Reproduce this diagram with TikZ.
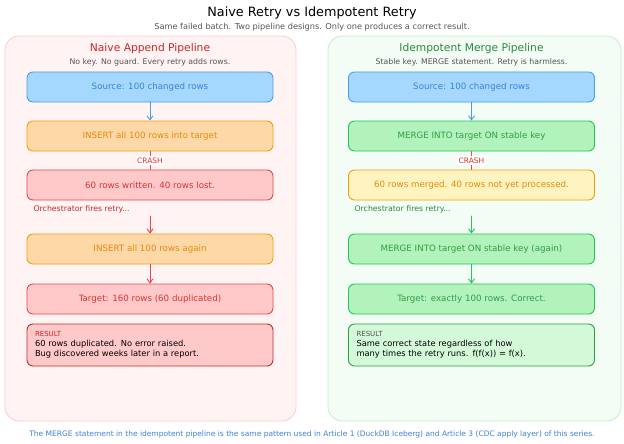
\documentclass[tikz,border=0pt]{standalone}
\usepackage{fontspec}
\setmainfont{DejaVu Sans}
\usetikzlibrary{arrows.meta}
\definecolor{lpanel}{HTML}{FFF3F3}
\definecolor{lpanelline}{HTML}{FFC9C9}
\definecolor{rpanel}{HTML}{F3FCF5}
\definecolor{rpanelline}{HTML}{C3EDCB}
\definecolor{srcfill}{HTML}{A5D8FF}
\definecolor{srcline}{HTML}{4A9EED}
\definecolor{srctext}{HTML}{3B82D4}
\definecolor{orfill}{HTML}{FFD8A8}
\definecolor{orline}{HTML}{F59E0B}
\definecolor{ortext}{HTML}{E8890C}
\definecolor{redfill}{HTML}{FFC9C9}
\definecolor{redline}{HTML}{EF4444}
\definecolor{redtext}{HTML}{E03131}
\definecolor{darkred}{HTML}{C92A2A}
\definecolor{grfill}{HTML}{B2F2BB}
\definecolor{grline}{HTML}{22C55E}
\definecolor{grtext}{HTML}{2F9E44}
\definecolor{darkgreen}{HTML}{2B8A3E}
\definecolor{yelfill}{HTML}{FFF3BF}
\definecolor{resgreen}{HTML}{D3F9D8}
\definecolor{subgrey}{HTML}{555555}
\begin{document}
\begin{tikzpicture}[x=1pt, y=-1pt, font=\fontsize{8.7}{10}\selectfont, line join=round, line cap=round, >={Straight Barb[length=4pt,width=6pt]},
	box/.style={draw, line width=0.9pt, rounded corners=6pt, minimum width=246pt, minimum height=30pt, inner sep=0pt},
	resbox/.style={box, minimum height=42pt, align=left, text width=230pt, font=\fontsize{8.3}{10}\selectfont},
	small/.style={font=\fontsize{7.8}{9}\selectfont},
	flow/.style={->, line width=0.9pt},
	crash/.style={line width=0.5pt, draw=redline},
	crashlabel/.style={fill=white, text=redtext, inner sep=1.5pt, font=\fontsize{7.5}{8}\selectfont}]
	\useasboundingbox (0,0) rectangle (624,444);
	% panels
	\draw[fill=lpanel, draw=lpanelline, line width=0.8pt, rounded corners=14pt] (5,36) rectangle (296,421);
	\draw[fill=rpanel, draw=rpanelline, line width=0.8pt, rounded corners=14pt] (328,36) rectangle (621,421);
	\node (title) at (312,13) {\fontsize{12.8}{14}\selectfont Naive Retry vs Idempotent Retry};
	\node[small, text=subgrey, font=\fontsize{8.2}{9}\selectfont] (subtitle) at (312,27) {Same failed batch. Two pipeline designs. Only one produces a correct result.};
	% naive
	\node[text=darkred] (ltitle) at (150,49) {\fontsize{10.7}{12}\selectfont Naive Append Pipeline};
	\node[small, text=subgrey] (lsub) at (150,62) {No key. No guard. Every retry adds rows.};
	\node[box, fill=srcfill, draw=srcline, text=srctext] (lsrc) at (150,87) {Source: 100 changed rows};
	\node[box, fill=orfill, draw=orline, text=ortext] (lins) at (150,136) {INSERT all 100 rows into target};
	\node[box, fill=redfill, draw=redline, text=redtext] (lfail) at (150,185) {60 rows written. 40 rows lost.};
	\node[small, text=darkred, anchor=west] (lretry) at (30,209) {Orchestrator fires retry...};
	\coordinate (lgo) at (150,216);
	\node[box, fill=orfill, draw=orline, text=ortext] (lagain) at (150,249) {INSERT all 100 rows again};
	\node[box, fill=redfill, draw=redline, text=redtext] (ltgt) at (150,299) {Target: 160 rows (60 duplicated)};
	\node[resbox, fill=redfill, draw=darkred] (lres) at (150,345) {{\fontsize{7}{8}\selectfont\color{darkred}RESULT}\\60 rows duplicated. No error raised.\\Bug discovered weeks later in a report.};
	\draw[flow, srcline] (lsrc) -- (lins);
	\draw[crash] (lins) -- node[crashlabel] {CRASH} (lfail);
	\draw[flow, redline] (lgo) -- (lagain);
	\draw[flow, redline] (lagain) -- (ltgt);
	% idempotent
	\node[text=darkgreen] (rtitle) at (471.5,49) {\fontsize{10.7}{12}\selectfont Idempotent Merge Pipeline};
	\node[small, text=subgrey] (rsub) at (471.5,62) {Stable key. MERGE statement. Retry is harmless.};
	\node[box, fill=srcfill, draw=srcline, text=srctext] (rsrc) at (471.5,87) {Source: 100 changed rows};
	\node[box, fill=grfill, draw=grline, text=grtext] (rmerge) at (471.5,136) {MERGE INTO target ON stable key};
	\node[box, fill=yelfill, draw=orline, text=ortext] (rpart) at (471.5,185) {60 rows merged. 40 rows not yet processed.};
	\node[small, text=darkgreen, anchor=west] (rretry) at (351,209) {Orchestrator fires retry...};
	\coordinate (rgo) at (471.5,216);
	\node[box, fill=grfill, draw=grline, text=grtext] (ragain) at (471.5,249) {MERGE INTO target ON stable key (again)};
	\node[box, fill=grfill, draw=grline, text=grtext] (rtgt) at (471.5,299) {Target: exactly 100 rows. Correct.};
	\node[resbox, fill=resgreen, draw=grtext] (rres) at (471.5,345) {{\fontsize{7}{8}\selectfont\color{subgrey}RESULT}\\Same correct state regardless of how\\many times the retry runs. f(f(x)) = f(x).};
	\draw[flow, srcline] (rsrc) -- (rmerge);
	\draw[crash] (rmerge) -- node[crashlabel] {CRASH} (rpart);
	\draw[flow, grline] (rgo) -- (ragain);
	\draw[flow, grline] (ragain) -- (rtgt);
	% footer
	\node[small, text=srctext, font=\fontsize{7.5}{8}\selectfont] (footer) at (312,434) {The MERGE statement in the idempotent pipeline is the same pattern used in Article 1 (DuckDB Iceberg) and Article 3 (CDC apply layer) of this series.};
\end{tikzpicture}
\end{document}
